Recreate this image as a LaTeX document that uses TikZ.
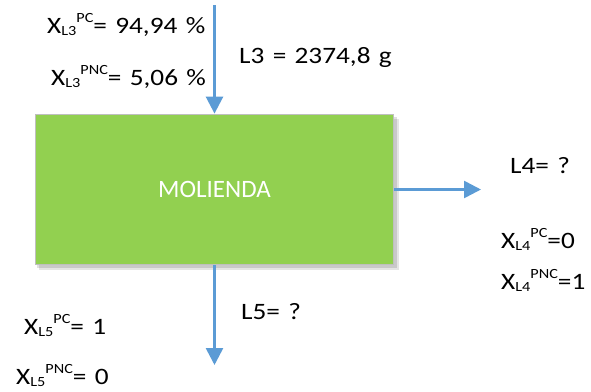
\documentclass[tikz,border=0pt]{standalone}
\usepackage{graphicx}
\usepackage{fontspec}
\setmainfont{Carlito}
\newfontfamily\lblfont[FakeStretch=1.16,WordSpace=1.35]{Carlito}
\usetikzlibrary{arrows.meta}
\definecolor{procgreen}{HTML}{92D050}
\definecolor{flowblue}{HTML}{5B9BD5}
\definecolor{boxline}{HTML}{BFBFBF}
% X with a subscript stream name followed by a superscript component
\newcommand\flowx[3]{X\raisebox{-0.1em}{\fontsize{14}{15}\selectfont #1}\raisebox{0.46em}{\fontsize{14}{15}\selectfont #2}#3}
\tikzset{
  lbl/.style={anchor=base west, inner sep=0pt, font=\lblfont\fontsize{23.5}{26}\selectfont},
  flow/.style={draw=flowblue, line width=2.6pt, -{Triangle[length=17pt,width=17pt]}},
  procbox/.style={draw=boxline, line width=1.8pt, fill=procgreen, minimum width=358pt,
    minimum height=150pt, inner sep=0pt, text=white, font=\fontsize{25}{28}\selectfont}
}
\begin{document}
\begin{tikzpicture}[x=1pt,y=-1pt]
\useasboundingbox (0,0) rectangle (591,391);
% soft drop shadow under the process block
\fill[black, opacity=0.10] (39,119) rectangle (399,270);
\fill[black, opacity=0.12] (37,117) rectangle (397,268);
\node[procbox] (mol) at (214.5,189.5) {MOLIENDA};
% stream ends
\coordinate (l3in) at (214.5,5);
\coordinate (l4out) at (481,189.5);
\coordinate (l5out) at (214.5,365);
\draw[flow] (l3in) -- (mol.north);
\draw[flow] (mol.east) -- (l4out);
\draw[flow] (mol.south) -- (l5out);
% stream L3
\node[lbl] (x3pc) at (47,33) {\flowx{L3}{PC}{= 94,94 \%}};
\node[lbl] (x3pnc) at (51,85) {\flowx{L3}{PNC}{= 5,06 \%}};
\node[lbl] (l3) at (239,63) {L3 = 2374,8 g};
% stream L4
\node[lbl] (l4) at (510,173) {L4= ?};
\node[lbl] (x4pc) at (501,248) {\flowx{L4}{PC}{=0}};
\node[lbl] (x4pnc) at (501,289) {\flowx{L4}{PNC}{=1}};
% stream L5
\node[lbl] (l5) at (241,319) {L5= ?};
\node[lbl] (x5pc) at (24,334) {\flowx{L5}{PC}{= 1}};
\node[lbl] (x5pnc) at (16,384.5) {\flowx{L5}{PNC}{= 0}};
\end{tikzpicture}
\end{document}
